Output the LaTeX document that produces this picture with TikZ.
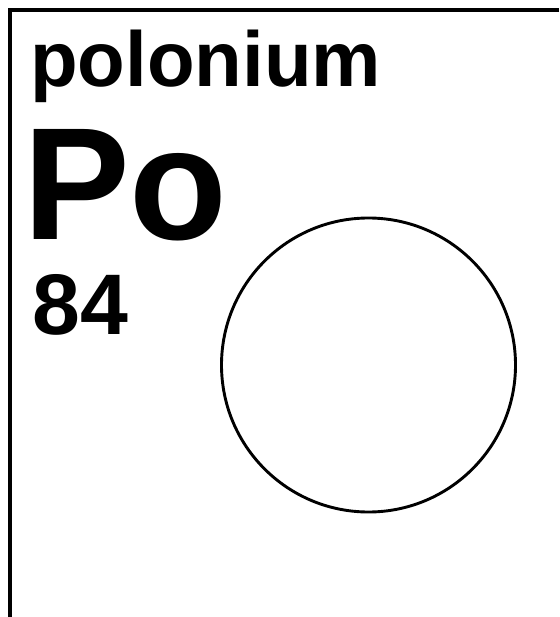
\documentclass[tikz,border=0pt]{standalone}
\usepackage{fontspec}
\setmainfont{Liberation Sans}
\begin{document}
\begin{tikzpicture}[x=1pt,y=-1pt,
  label/.style={anchor=base west,inner sep=0pt,font=\bfseries},
  frame/.style={line width=4pt,line cap=butt}]
\useasboundingbox (0,0) rectangle (559,617);
\fill[white] (0,0) rectangle (559,617);
\coordinate (tl) at (10,10);
\coordinate (tr) at (559,10);
\coordinate (bl) at (10,617);
\draw[frame] (tr) -- (tl) -- (bl);
\node[label,font=\bfseries\fontsize{78}{78}\selectfont] (name) at (30,87) {polonium};
\node[label,font=\bfseries\fontsize{160}{160}\selectfont] (sym) at (23,240) {Po};
\node[label,font=\bfseries\fontsize{86}{86}\selectfont] (num) at (32,334) {84};
\node[draw,circle,line width=2.9pt,minimum size=294pt,inner sep=0pt] (atom) at (368.5,365) {};
\end{tikzpicture}
\end{document}
